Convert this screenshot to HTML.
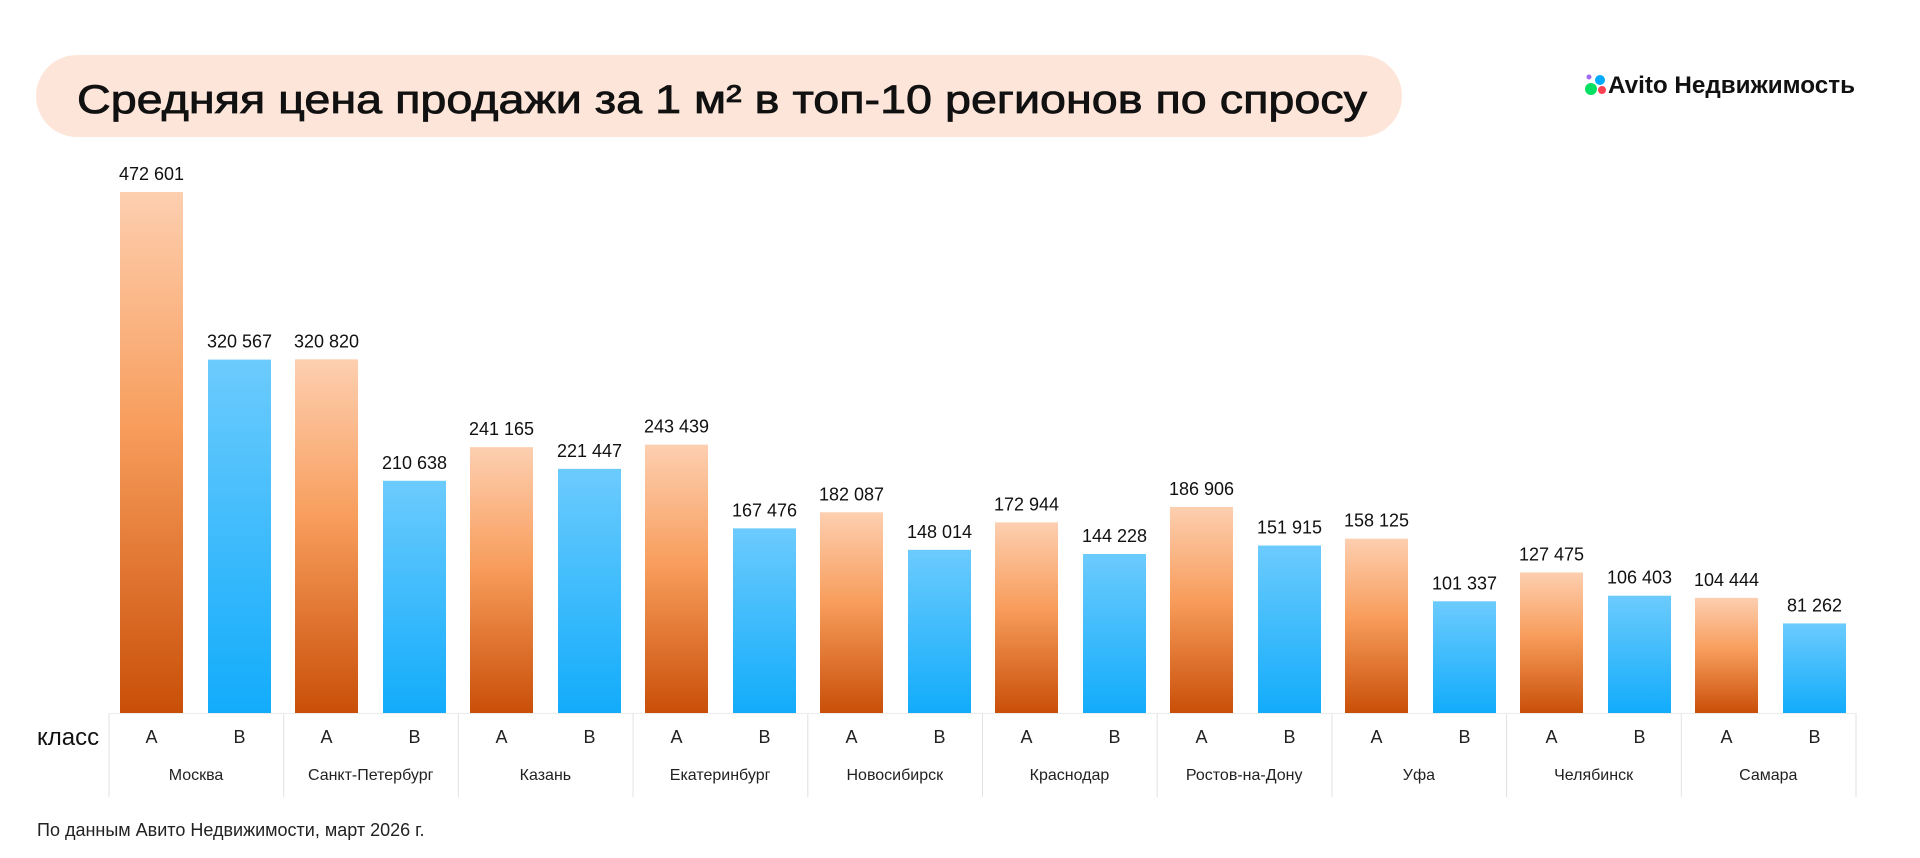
<!DOCTYPE html>
<html><head><meta charset="utf-8"><style>
html,body{margin:0;padding:0;background:#fff;}
svg{display:block;font-family:"Liberation Sans",sans-serif;}
</style></head><body>
<svg width="1920" height="858" viewBox="0 0 1920 858" xmlns="http://www.w3.org/2000/svg">
<defs>
<linearGradient id="ga" x1="0" y1="0" x2="0" y2="1">
<stop offset="0" stop-color="#fdcfb0"/><stop offset="0.45" stop-color="#f89d5c"/><stop offset="1" stop-color="#c94f08"/>
</linearGradient>
<linearGradient id="gb" x1="0" y1="0" x2="0" y2="1">
<stop offset="0" stop-color="#6ccbfd"/><stop offset="1" stop-color="#12acfb"/>
</linearGradient>
</defs>
<rect x="36" y="55" width="1366" height="82" rx="41" fill="#fde6d9"/>
<text x="77" y="113" font-size="40" fill="#111" stroke="#111" stroke-width="0.8" textLength="1290" lengthAdjust="spacingAndGlyphs">Средняя цена продажи за 1 м² в топ-10 регионов по спросу</text>
<circle cx="1589" cy="77" r="2.5" fill="#a169f7"/>
<circle cx="1600" cy="80" r="5" fill="#0af"/>
<circle cx="1591" cy="89" r="6" fill="#04e061"/>
<circle cx="1602" cy="90" r="4" fill="#ff4053"/>
<text x="1608" y="93" font-size="24" font-weight="bold" fill="#111" textLength="247" lengthAdjust="spacingAndGlyphs">Avito Недвижимость</text>
<g id="bars"></g>
<text x="37" y="745" font-size="24" fill="#111">класс</text>
<text x="37" y="836" font-size="18" fill="#222">По данным Авито Недвижимости, март 2026 г.</text>
<script>
(function(){
var d=[["Москва",472601,320567],["Санкт-Петербург",320820,210638],["Казань",241165,221447],["Екатеринбург",243439,167476],["Новосибирск",182087,148014],["Краснодар",172944,144228],["Ростов-на-Дону",186906,151915],["Уфа",158125,101337],["Челябинск",127475,106403],["Самара",104444,81262]];
var ns="http://www.w3.org/2000/svg",g=document.getElementById("bars");
function el(t,a,txt){var e=document.createElementNS(ns,t);for(var k in a)e.setAttribute(k,a[k]);if(txt)e.textContent=txt;g.appendChild(e);}
function fmt(v){return String(v).replace(/\B(?=(\d{3})+(?!\d))/g," ");}
var base=713,k=521/472601;
for(var i=0;i<10;i++){
var gx=109+174.7*i;
el("line",{x1:gx,y1:713,x2:gx,y2:797,stroke:"#e2e2e2","stroke-width":1});
[1,2].forEach(function(j){
var x=120+175*i+(j-1)*88,h=d[i][j]*k;
el("rect",{x:x,y:base-h,width:63,height:h,fill:j==1?"url(#ga)":"url(#gb)"});
el("text",{x:x+31.5,y:base-h-12,"font-size":18,"text-anchor":"middle",fill:"#111"},fmt(d[i][j]));
el("text",{x:x+31.5,y:743,"font-size":18,"text-anchor":"middle",fill:"#222"},j==1?"A":"B");
});
el("text",{x:gx+87,y:780,"font-size":16,"text-anchor":"middle",fill:"#222"},d[i][0]);
}
el("line",{x1:1856,y1:713,x2:1856,y2:797,stroke:"#e2e2e2","stroke-width":1});
el("line",{x1:109,y1:713.5,x2:1856,y2:713.5,stroke:"#ececec","stroke-width":1});
})();
</script>
</svg>
</body></html>
